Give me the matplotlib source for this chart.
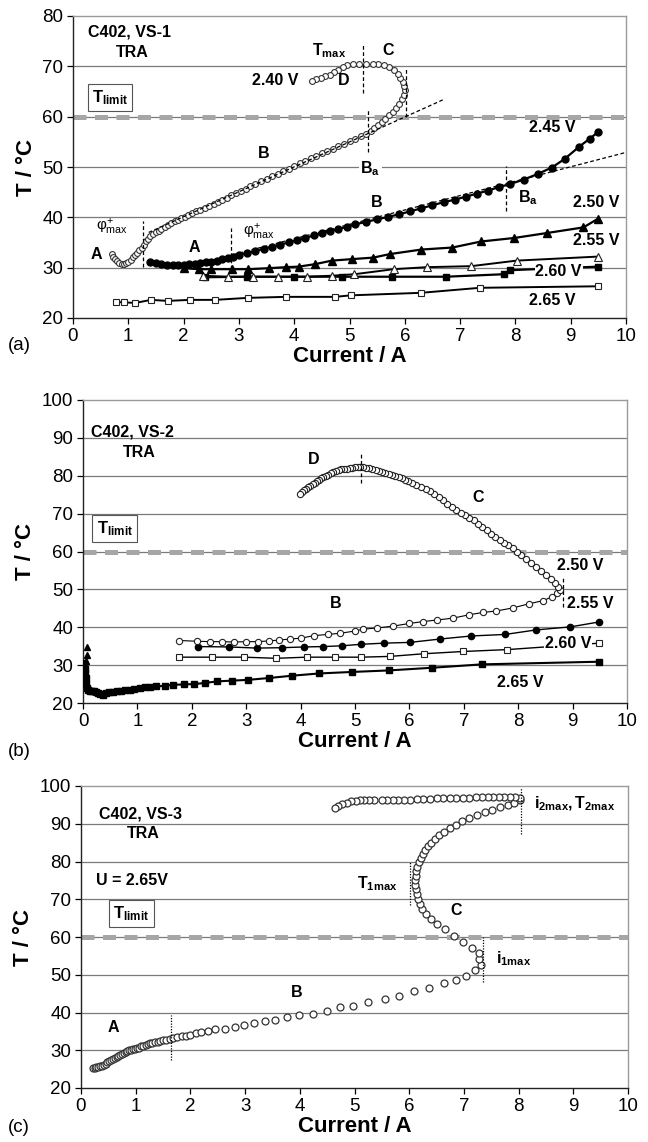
import matplotlib
matplotlib.use("Agg")
import matplotlib.pyplot as plt
import numpy as np

plt.rcParams['font.family'] = ['Liberation Sans', 'DejaVu Sans']
plt.rcParams['mathtext.fontset'] = 'custom'
plt.rcParams['mathtext.rm'] = 'Liberation Sans'
plt.rcParams['mathtext.it'] = 'Liberation Sans'
plt.rcParams['mathtext.bf'] = 'Liberation Sans:bold'

# ---------------- (a) C402, VS-1 ----------------
a_240_i = [0.70, 0.73, 0.76, 0.80, 0.84, 0.88, 0.92, 0.96, 1.00, 1.04, 1.08, 1.12, 1.16, 1.20, 1.24,
           1.28, 1.32, 1.36, 1.40, 1.45, 1.50, 1.55, 1.60, 1.66, 1.72, 1.78, 1.84, 1.90, 1.96, 2.02,
           2.08, 2.15, 2.22, 2.30, 2.38, 2.46, 2.55, 2.62, 2.70, 2.78, 2.86, 2.95, 3.04, 3.12, 3.20,
           3.30, 3.40, 3.50, 3.60, 3.70, 3.80, 3.90, 4.00, 4.10, 4.20, 4.30, 4.40, 4.50, 4.60, 4.70,
           4.80, 4.90, 5.00, 5.10, 5.20, 5.30, 5.38, 5.45, 5.52, 5.58, 5.65, 5.72, 5.78, 5.84, 5.90,
           5.95, 5.98, 6.00, 5.99, 5.96, 5.92, 5.87, 5.80, 5.72, 5.62, 5.52, 5.42, 5.30, 5.18, 5.06,
           4.96, 4.88, 4.80, 4.72, 4.64, 4.56, 4.48, 4.40, 4.32]
a_240_T = [32.8, 32.2, 31.7, 31.3, 31.0, 30.8, 30.7, 30.9, 31.2, 31.6, 32.1, 32.6, 33.0, 33.5, 34.0,
           34.5, 35.2, 35.7, 36.3, 36.6, 37.0, 37.3, 37.7, 38.1, 38.5, 38.8, 39.2, 39.5, 39.8, 40.1,
           40.5, 40.8, 41.2, 41.5, 41.9, 42.3, 42.7, 43.1, 43.5, 43.9, 44.4, 44.8, 45.3, 45.7, 46.2,
           46.7, 47.2, 47.7, 48.2, 48.7, 49.2, 49.7, 50.2, 50.7, 51.2, 51.7, 52.2, 52.7, 53.2, 53.6,
           54.1, 54.6, 55.1, 55.6, 56.1, 56.6, 57.2, 57.8, 58.4, 59.0, 59.6, 60.3, 61.0, 61.8, 62.6,
           63.5, 64.4, 65.2, 66.0, 66.8, 67.6, 68.4, 69.2, 69.8, 70.2, 70.4, 70.5, 70.5, 70.5, 70.4,
           70.2, 69.8, 69.3, 68.8, 68.3, 68.0, 67.7, 67.4, 67.1]

a_245_i = [1.40, 1.50, 1.60, 1.70, 1.80, 1.90, 2.00, 2.10, 2.20, 2.30, 2.40, 2.50, 2.60, 2.70, 2.80,
           2.90, 3.00, 3.15, 3.30, 3.45, 3.60, 3.75, 3.90, 4.05, 4.20, 4.35, 4.50, 4.65, 4.80, 4.95,
           5.10, 5.30, 5.50, 5.70, 5.90, 6.10, 6.30, 6.50, 6.70, 6.90, 7.10, 7.30, 7.50, 7.70, 7.90,
           8.15, 8.40, 8.66, 8.89, 9.15, 9.34, 9.49]
a_245_T = [31.1, 31.0, 30.8, 30.6, 30.5, 30.5, 30.5, 30.7, 30.8, 31.0, 31.1, 31.2, 31.4, 31.8, 32.0,
           32.2, 32.6, 32.9, 33.3, 33.8, 34.2, 34.6, 35.0, 35.5, 35.9, 36.4, 36.8, 37.3, 37.7, 38.1,
           38.6, 39.1, 39.6, 40.1, 40.6, 41.2, 41.8, 42.4, 43.0, 43.5, 44.1, 44.7, 45.3, 46.0, 46.6,
           47.5, 48.6, 49.9, 51.6, 54.0, 55.6, 56.9]

a_250_i = [2.00, 2.27, 2.50, 2.87, 3.17, 3.55, 3.85, 4.08, 4.38, 4.68, 5.05, 5.43, 5.73, 6.30, 6.86,
           7.38, 7.98, 8.58, 9.23, 9.49]
a_250_T = [29.9, 29.7, 29.7, 29.7, 29.7, 29.9, 30.1, 30.2, 30.7, 31.4, 31.7, 32.0, 32.7, 33.6, 34.0,
           35.2, 35.9, 36.9, 38.0, 39.7]

a_255_i = [2.35, 2.80, 3.25, 3.70, 4.23, 4.68, 5.09, 5.80, 6.40, 7.20, 8.02, 9.49]
a_255_T = [28.4, 28.2, 28.2, 28.2, 28.2, 28.4, 28.7, 29.7, 30.1, 30.3, 31.4, 32.2]

a_260_i = [2.38, 3.14, 4.00, 4.86, 5.77, 6.74, 7.80, 7.91, 9.49]
a_260_T = [28.1, 28.2, 28.2, 28.2, 28.2, 28.2, 28.7, 29.5, 30.2]

a_265_i = [0.77, 0.92, 1.13, 1.41, 1.71, 2.12, 2.57, 3.16, 3.85, 4.74, 5.02, 6.29, 7.36, 9.49]
a_265_T = [23.2, 23.1, 23.0, 23.6, 23.4, 23.6, 23.6, 24.0, 24.2, 24.2, 24.5, 25.0, 26.0, 26.3]

# linear fits of the B region (end points)
a_fit240 = ([1.37, 6.70], [37.0, 63.4])
a_fit245 = ([2.90, 10.0], [32.6, 52.9])

# ---------------- (b) C402, VS-2 ----------------
b_250_i = [1.77, 2.10, 2.34, 2.56, 2.78, 3.00, 3.22, 3.42, 3.60, 3.80, 4.00, 4.25, 4.50, 4.72, 5.00,
           5.15, 5.40, 5.70, 6.00, 6.25, 6.50, 6.80, 7.10, 7.35, 7.60, 7.90, 8.20, 8.45, 8.62, 8.72,
           8.76, 8.74, 8.68, 8.60, 8.51, 8.42, 8.33, 8.24, 8.15, 8.06, 7.98, 7.90, 7.82, 7.74, 7.66,
           7.58, 7.50, 7.42, 7.34, 7.26, 7.18, 7.10, 7.02, 6.94, 6.86, 6.78, 6.70, 6.62, 6.54, 6.46,
           6.38, 6.30, 6.22, 6.13, 6.05, 5.98, 5.92, 5.86, 5.80, 5.74, 5.68, 5.62, 5.56, 5.50, 5.44,
           5.38, 5.32, 5.26, 5.20, 5.15, 5.10, 5.05, 5.00, 4.95, 4.90, 4.85, 4.80, 4.75, 4.70, 4.65,
           4.60, 4.55, 4.50, 4.46, 4.42, 4.38, 4.34, 4.30, 4.26, 4.22, 4.18, 4.14, 4.10, 4.06, 4.02,
           3.98]
b_250_T = [36.5, 36.3, 36.2, 36.2, 36.1, 36.2, 36.2, 36.4, 36.6, 36.9, 37.1, 37.8, 38.1, 38.4, 39.0,
           39.5, 39.8, 40.3, 41.0, 41.5, 41.9, 42.4, 43.3, 43.9, 44.3, 45.1, 46.2, 47.0, 48.0, 49.0,
           49.8, 50.6, 51.6, 52.7, 53.8, 54.9, 55.9, 57.0, 58.0, 59.0, 59.9, 60.8, 61.6, 62.3, 63.0,
           63.9, 64.7, 65.6, 66.5, 67.3, 68.2, 68.9, 69.6, 70.2, 70.9, 71.7, 72.6, 73.5, 74.5, 75.3,
           75.9, 76.5, 77.0, 77.5, 78.0, 78.5, 79.0, 79.5, 79.8, 80.0, 80.2, 80.4, 80.7, 81.0, 81.3,
           81.6, 81.8, 82.0, 82.1, 82.2, 82.3, 82.2, 82.2, 82.1, 82.0, 81.9, 81.8, 81.7, 81.5, 81.3,
           81.0, 80.7, 80.3, 80.0, 79.6, 79.3, 78.9, 78.6, 78.2, 77.8, 77.4, 77.0, 76.6, 76.2, 75.7,
           75.1]

b_255_i = [2.11, 2.69, 3.19, 3.65, 4.07, 4.42, 4.76, 5.11, 5.53, 6.01, 6.57, 7.14, 7.76, 8.33, 8.96, 9.49]
b_255_T = [34.9, 34.8, 34.5, 34.6, 34.8, 34.9, 35.1, 35.5, 35.8, 36.0, 36.9, 37.7, 38.1, 39.3, 40.1, 41.4]

b_260_i = [1.77, 2.38, 2.96, 3.55, 4.11, 4.63, 5.11, 5.64, 6.26, 6.99, 7.80, 9.49]
b_260_T = [32.1, 32.1, 32.1, 31.8, 32.1, 32.1, 32.1, 32.3, 33.0, 33.6, 34.1, 35.8]

b_265_i = [0.00, 0.01, 0.02, 0.03, 0.04, 0.05, 0.06, 0.08, 0.10, 0.12, 0.16, 0.20, 0.24, 0.28, 0.32,
           0.36, 0.42, 0.48, 0.55, 0.62, 0.70, 0.78, 0.86, 0.94, 1.04, 1.14, 1.24, 1.34, 1.50, 1.65,
           1.85, 2.04, 2.25, 2.46, 2.73, 3.03, 3.42, 3.84, 4.34, 4.95, 5.62, 6.41, 7.33, 9.49]
b_265_T = [28.6, 29.5, 30.5, 29.0, 28.0, 26.5, 25.0, 24.0, 23.4, 23.3, 23.2, 23.1, 22.9, 22.6, 22.3,
           22.2, 22.6, 22.8, 23.0, 23.3, 23.2, 23.4, 23.5, 23.7, 24.0, 24.2, 24.3, 24.4, 24.5, 24.8,
           24.9, 25.0, 25.3, 25.7, 25.9, 26.1, 26.6, 27.2, 27.8, 28.2, 28.6, 29.3, 30.2, 30.9]

# start-up spike recorded at 2.50 V
b_spike_i = [0.06, 0.07, 0.07]
b_spike_T = [31.0, 32.8, 34.8]

# ---------------- (c) C402, VS-3 ----------------
c_i = [0.22, 0.25, 0.28, 0.31, 0.35, 0.38, 0.42, 0.45, 0.48, 0.52, 0.55, 0.58, 0.62, 0.65, 0.68,
       0.72, 0.75, 0.78, 0.82, 0.85, 0.88, 0.92, 0.95, 0.98, 1.02, 1.06, 1.10, 1.14, 1.18, 1.22,
       1.26, 1.30, 1.35, 1.40, 1.45, 1.50, 1.56, 1.62, 1.68, 1.76, 1.84, 1.92, 2.00, 2.10, 2.20,
       2.32, 2.45, 2.64, 2.81, 2.98, 3.17, 3.36, 3.55, 3.76, 3.99, 4.24, 4.49, 4.74, 4.98, 5.25,
       5.56, 5.82, 6.09, 6.36, 6.63, 6.85, 7.03, 7.20, 7.31, 7.28, 7.27, 7.15, 6.98, 6.82, 6.66,
       6.51, 6.40, 6.31, 6.24, 6.19, 6.16, 6.14, 6.12, 6.11, 6.11, 6.12, 6.13, 6.15, 6.18, 6.21,
       6.25, 6.29, 6.34, 6.40, 6.47, 6.55, 6.64, 6.74, 6.85, 6.97, 7.10, 7.24, 7.38, 7.52, 7.66,
       7.80, 7.92, 8.02, 8.02, 7.94, 7.84, 7.74, 7.64, 7.54, 7.44, 7.34, 7.22, 7.10, 6.98, 6.86,
       6.74, 6.62, 6.50, 6.38, 6.26, 6.14, 6.02, 5.90, 5.80, 5.70, 5.60, 5.50, 5.36, 5.26, 5.18,
       5.10, 5.02, 4.94, 4.86, 4.78, 4.70, 4.64]
c_T = [25.2, 25.4, 25.5, 25.6, 25.8, 25.9, 26.1, 26.4, 26.8, 27.1, 27.3, 27.6, 27.9, 28.2, 28.5,
       28.8, 29.1, 29.3, 29.6, 29.8, 30.0, 30.1, 30.2, 30.3, 30.5, 30.7, 31.0, 31.2, 31.4, 31.6,
       31.8, 32.0, 32.2, 32.3, 32.5, 32.6, 32.8, 33.0, 33.2, 33.5, 33.7, 33.9, 34.1, 34.5, 34.9,
       35.2, 35.5, 35.7, 36.1, 36.7, 37.2, 37.7, 37.9, 38.8, 39.3, 39.7, 40.5, 41.4, 41.7, 42.9,
       43.7, 44.3, 45.6, 46.5, 47.8, 48.7, 49.8, 51.2, 52.7, 54.1, 55.8, 57.1, 58.8, 60.3, 62.0,
       63.5, 64.8, 66.2, 67.5, 68.8, 70.1, 71.4, 72.6, 73.8, 75.0, 76.2, 77.4, 78.6, 79.8, 80.9,
       82.0, 83.0, 84.0, 85.0, 86.0, 87.0, 87.9, 88.8, 89.7, 90.6, 91.4, 92.2, 93.0, 93.7, 94.4,
       95.0, 95.6, 96.2, 96.9, 97.0, 97.0, 97.0, 97.0, 97.0, 97.0, 97.0, 97.0, 96.9, 96.9, 96.9,
       96.8, 96.8, 96.7, 96.6, 96.6, 96.5, 96.4, 96.4, 96.3, 96.3, 96.3, 96.3, 96.3, 96.3, 96.3,
       96.2, 96.1, 95.9, 95.6, 95.3, 94.8, 94.2]

W, H = 648, 1142
fig = plt.figure(figsize=(W / 100, H / 100), dpi=100)


def frac(l, r, t, b):
    return [l / W, 1 - b / H, (r - l) / W, (b - t) / H]


def style_axes(ax, ymin, ymax):
    ax.set_xlim(0, 10)
    ax.set_ylim(ymin, ymax)
    ax.set_xticks(range(0, 11))
    ax.set_yticks(range(ymin, ymax + 1, 10))
    for yv in range(ymin + 10, ymax, 10):
        ax.axhline(yv, color='#7a7a7a', lw=0.9, zorder=0)
    ax.axhline(60, color='#a6a6a6', lw=3.6, ls=(0, (2.6, 1.7)), zorder=1)
    for s in ('top', 'right'):
        ax.spines[s].set_color('#9a9a9a')
        ax.spines[s].set_linewidth(1.0)
    for s in ('left', 'bottom'):
        ax.spines[s].set_color('#222222')
        ax.spines[s].set_linewidth(1.0)
    ax.tick_params(direction='out', length=4, width=0.9, labelsize=13.5, pad=3)
    ax.set_xlabel('Current / A', fontsize=16, fontweight='bold', labelpad=1)
    ax.set_ylabel('T / °C', fontsize=16, fontweight='bold', labelpad=4)


def bold(ax, x, y, s, **kw):
    kw.setdefault('fontsize', 11.5)
    kw.setdefault('ha', 'center')
    kw.setdefault('va', 'center')
    ax.text(x, y, s, fontweight='bold', **kw)


def tlimit(ax, x, y):
    ax.text(x, y, r'$\mathbf{T_{limit}}$', fontsize=12, ha='center', va='center',
            bbox=dict(boxstyle='square,pad=0.25', fc='white', ec='#555555', lw=0.8))


def vdash(ax, x, y0, y1, ls=(0, (3, 2))):
    ax.plot([x, x], [y0, y1], color='black', lw=0.9, ls=ls, zorder=4)


# ---- panel (a)
ax = fig.add_axes(frac(73, 626, 16, 318))
style_axes(ax, 20, 80)
ax.plot(a_265_i, a_265_T, '-', color='black', lw=1.4, marker='s', ms=4.5, mfc='white', mec='#222222', mew=0.8, zorder=3)
ax.plot(a_260_i, a_260_T, '-', color='black', lw=1.6, marker='s', ms=4.5, mfc='black', mec='black', zorder=3)
ax.plot(a_255_i, a_255_T, '-', color='black', lw=1.4, marker='^', ms=5.5, mfc='white', mec='#222222', mew=0.8, zorder=3)
ax.plot(a_250_i, a_250_T, '-', color='black', lw=1.6, marker='^', ms=5.5, mfc='black', mec='black', zorder=3)
ax.plot(a_245_i, a_245_T, '-', color='black', lw=1.6, marker='o', ms=5, mfc='black', mec='black', zorder=3)
ax.plot(*a_fit245, color='black', lw=0.9, ls=(0, (3, 2)), zorder=4)
ax.plot(a_240_i, a_240_T, 'o', ms=4.2, mfc='white', mec='#333333', mew=0.8, zorder=3)
ax.plot(*a_fit240, color='black', lw=0.9, ls=(0, (3, 2)), zorder=4)
vdash(ax, 1.26, 30.1, 39.3)
vdash(ax, 2.86, 29.7, 37.8)
vdash(ax, 5.24, 64.8, 74.4)
vdash(ax, 6.03, 59.9, 69.8)
vdash(ax, 5.33, 52.9, 61.5)
vdash(ax, 7.83, 41.3, 50.1)

bold(ax, 0.28, 76.9, 'C402, VS-1', ha='left')
bold(ax, 1.07, 72.8, 'TRA')
tlimit(ax, 0.67, 63.8)
bold(ax, 4.07, 67.1, '2.40 V', ha='right')
bold(ax, 4.90, 67.1, 'D')
ax.text(4.64, 73.2, r'$\mathbf{T_{max}}$', fontsize=11.5, ha='center', va='center')
bold(ax, 5.69, 73.2, 'C')
bold(ax, 3.44, 52.6, 'B')
ax.text(5.38, 49.7, r'$\mathbf{B_{a}}$', fontsize=11.5, ha='center', va='center',
        bbox=dict(boxstyle='square,pad=0.1', fc='white', ec='none'), zorder=5)
bold(ax, 5.50, 43.0, 'B')
ax.text(8.22, 43.9, r'$\mathbf{B_{a}}$', fontsize=11.5, ha='center', va='center')
bold(ax, 8.66, 57.9, '2.45 V')
bold(ax, 9.88, 43.0, '2.50 V', ha='right')
bold(ax, 9.88, 35.4, '2.55 V', ha='right')
ax.text(8.78, 29.3, '2.60 V', fontsize=11.5, fontweight='bold', ha='center', va='center',
        bbox=dict(boxstyle='square,pad=0.05', fc='white', ec='none'), zorder=5)
bold(ax, 8.66, 23.4, '2.65 V')
bold(ax, 0.43, 32.7, 'A')
bold(ax, 2.20, 34.0, 'A')
ax.text(0.70, 38.0, r'$\varphi^{+}_{\mathrm{max}}$', fontsize=11, ha='center', va='center')
ax.text(3.36, 37.0, r'$\varphi^{+}_{\mathrm{max}}$', fontsize=11, ha='center', va='center')
fig.text(8 / W, 1 - 345 / H, '(a)', fontsize=13.5, va='center')

# ---- panel (b)
ax = fig.add_axes(frac(83, 627, 400, 703))
style_axes(ax, 20, 100)
ax.plot(b_265_i, b_265_T, '-', color='black', lw=1.5, marker='s', ms=4.5, mfc='black', mec='black', zorder=3)
ax.plot(b_spike_i, b_spike_T, '^', ms=4.5, mfc='black', mec='black', zorder=3)
ax.plot(b_260_i, b_260_T, '-', color='black', lw=1.0, marker='s', ms=4.5, mfc='white', mec='#222222', mew=0.8, zorder=3)
ax.plot(b_255_i, b_255_T, '-', color='black', lw=1.0, marker='o', ms=4.5, mfc='black', mec='black', zorder=3)
ax.plot(b_250_i, b_250_T, '-', color='black', lw=0.8, marker='o', ms=4.5, mfc='white', mec='#222222', mew=0.8, zorder=3)
vdash(ax, 5.11, 78.0, 85.9)
vdash(ax, 8.83, 45.3, 53.2)
bold(ax, 0.15, 91.5, 'C402, VS-2', ha='left')
bold(ax, 1.04, 86.2, 'TRA')
bold(ax, 4.24, 84.3, 'D')
bold(ax, 7.27, 74.3, 'C')
tlimit(ax, 0.58, 66.0)
bold(ax, 9.14, 56.4, '2.50 V')
bold(ax, 9.33, 46.4, '2.55 V')
bold(ax, 4.65, 46.2, 'B')
ax.text(8.91, 35.7, '2.60 V', fontsize=11.5, fontweight='bold', ha='center', va='center',
        bbox=dict(boxstyle='square,pad=0.05', fc='white', ec='none'), zorder=5)
bold(ax, 8.03, 25.5, '2.65 V')
fig.text(8 / W, 1 - 752 / H, '(b)', fontsize=13.5, va='center')

# ---- panel (c)
ax = fig.add_axes(frac(81, 628, 786, 1088))
style_axes(ax, 20, 100)
ax.plot(c_i, c_T, 'o', ms=5, mfc='white', mec='#333333', mew=0.9, zorder=3)
dots = (0, (1, 1.2))
vdash(ax, 1.65, 27.4, 39.4, ls=dots)
vdash(ax, 6.02, 68.4, 80.2, ls=dots)
vdash(ax, 7.35, 48.0, 60.0, ls=dots)
vdash(ax, 8.05, 87.4, 99.4, ls=dots)
bold(ax, 0.33, 92.7, 'C402, VS-3', ha='left')
bold(ax, 1.13, 87.4, 'TRA')
bold(ax, 0.27, 74.9, 'U = 2.65V', ha='left')
tlimit(ax, 0.92, 66.2)
bold(ax, 0.60, 36.1, 'A')
bold(ax, 3.94, 45.4, 'B')
bold(ax, 6.85, 66.9, 'C')
ax.text(5.79, 74.2, r'$\mathbf{T_{1max}}$', fontsize=11.5, ha='right', va='center')
ax.text(7.58, 54.2, r'$\mathbf{i_{1max}}$', fontsize=11.5, ha='left', va='center')
ax.text(8.29, 95.4, r'$\mathbf{i_{2max},T_{2max}}$', fontsize=11.5, ha='left', va='center')
fig.text(8 / W, 1 - 1128 / H, '(c)', fontsize=13.5, va='center')

fig.savefig('out.png', dpi=100)
